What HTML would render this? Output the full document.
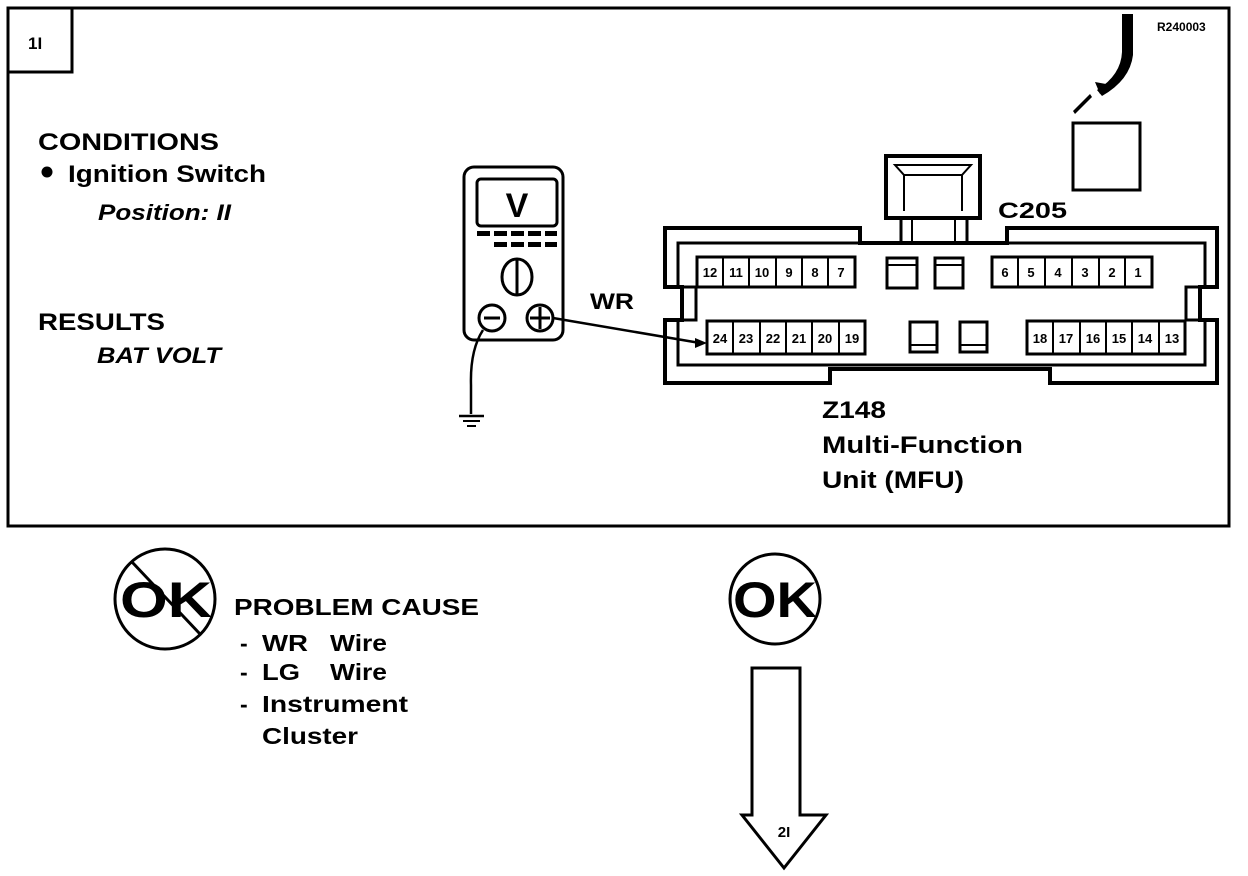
<!DOCTYPE html>
<html><head><style>
html,body{margin:0;padding:0;background:#fff;}
svg{display:block;}
text{font-family:"Liberation Sans",Arial,sans-serif;font-weight:bold;fill:#000;}
</style></head><body>
<svg width="1248" height="876" viewBox="0 0 1248 876" xmlns="http://www.w3.org/2000/svg">
<g fill="none" stroke="#000" stroke-width="3">
<rect x="8" y="8" width="1221" height="518"/>
<rect x="8" y="8" width="64" height="64"/>
<rect x="464" y="167" width="99" height="173" rx="10"/>
<rect x="477" y="179" width="80" height="47" rx="4"/>
<ellipse cx="517" cy="277" rx="15" ry="18"/>
<line x1="517" y1="260" x2="517" y2="294"/>
<circle cx="492" cy="318" r="13"/>
<line x1="484" y1="318" x2="500" y2="318"/>
<circle cx="540" cy="318" r="13"/>
<line x1="530" y1="318" x2="550" y2="318"/>
<line x1="540" y1="307" x2="540" y2="329"/>
<path d="M553 318 L700 343" stroke-width="2.5"/>
<path d="M483 330 Q470 350 471 385 L471 414" stroke-width="2.5"/>
<line x1="459" y1="416" x2="484" y2="416" stroke-width="2.5"/>
<line x1="463" y1="421" x2="480" y2="421" stroke-width="2"/>
<line x1="467" y1="426" x2="476" y2="426" stroke-width="2"/>
<path d="M665 228 L860 228 L860 243 L1007 243 L1007 228 L1217 228 L1217 287 L1200 287 L1200 320 L1217 320 L1217 383 L1050 383 L1050 369 L830 369 L830 383 L665 383 L665 320 L682 320 L682 287 L665 287 Z" stroke-width="4"/>
<path d="M678 243 L1205 243 L1205 287 L1186 287 L1186 320 L1205 320 L1205 365 L678 365 L678 320 L696 320 L696 287 L678 287 Z" stroke-width="3"/>
<rect x="886" y="156" width="94" height="62" stroke-width="4"/>
<path d="M895 165 L971 165 L962 175 L904 175 Z M895 165 L904 175 L904 211 M971 165 L962 175 L962 211" stroke-width="2"/>
<rect x="901" y="218" width="66" height="25" stroke-width="3"/>
<line x1="912" y1="218" x2="912" y2="243" stroke-width="2"/>
<line x1="955" y1="218" x2="955" y2="243" stroke-width="2"/>
<rect x="1073" y="123" width="67" height="67"/>
<rect x="697" y="257" width="158" height="30"/>
<rect x="992" y="257" width="160" height="30"/>
<rect x="707" y="321" width="158" height="33"/>
<rect x="1027" y="321" width="158" height="33"/>
<rect x="887" y="258" width="30" height="30"/><line x1="887" y1="265" x2="917" y2="265" stroke-width="2"/>
<rect x="935" y="258" width="28" height="30"/><line x1="935" y1="265" x2="963" y2="265" stroke-width="2"/>
<rect x="910" y="322" width="27" height="30"/><line x1="910" y1="345" x2="937" y2="345" stroke-width="2"/>
<rect x="960" y="322" width="27" height="30"/><line x1="960" y1="345" x2="987" y2="345" stroke-width="2"/>
<g stroke-width="2">
<line x1="723" y1="257" x2="723" y2="287"/><line x1="749" y1="257" x2="749" y2="287"/><line x1="776" y1="257" x2="776" y2="287"/><line x1="802" y1="257" x2="802" y2="287"/><line x1="828" y1="257" x2="828" y2="287"/>
<line x1="1018" y1="257" x2="1018" y2="287"/><line x1="1045" y1="257" x2="1045" y2="287"/><line x1="1072" y1="257" x2="1072" y2="287"/><line x1="1099" y1="257" x2="1099" y2="287"/><line x1="1125" y1="257" x2="1125" y2="287"/>
<line x1="733" y1="321" x2="733" y2="354"/><line x1="760" y1="321" x2="760" y2="354"/><line x1="786" y1="321" x2="786" y2="354"/><line x1="812" y1="321" x2="812" y2="354"/><line x1="839" y1="321" x2="839" y2="354"/>
<line x1="1053" y1="321" x2="1053" y2="354"/><line x1="1080" y1="321" x2="1080" y2="354"/><line x1="1106" y1="321" x2="1106" y2="354"/><line x1="1132" y1="321" x2="1132" y2="354"/><line x1="1159" y1="321" x2="1159" y2="354"/>
</g>
<circle cx="165" cy="599" r="50"/>
<line x1="132" y1="562" x2="200" y2="634"/>
<circle cx="775" cy="599" r="45"/>
<path d="M752 668 L800 668 L800 815 L826 815 L784 868 L742 815 L752 815 Z"/>
</g>
<g fill="#000">
<rect x="477" y="231" width="13" height="5"/><rect x="494" y="231" width="13" height="5"/><rect x="511" y="231" width="13" height="5"/><rect x="528" y="231" width="13" height="5"/><rect x="545" y="231" width="12" height="5"/>
<rect x="494" y="242" width="13" height="5"/><rect x="511" y="242" width="13" height="5"/><rect x="528" y="242" width="13" height="5"/><rect x="545" y="242" width="12" height="5"/>
<path d="M695 338 L707 343 L695 348 Z"/>
<path d="M1122 14 L1133 14 L1133 55 Q1130 80 1102 96 L1097 90 Q1121 75 1122 52 Z"/>
<path d="M1095 82 L1106 84 L1100 94 Z"/>
<path d="M1073 111 L1090 94 L1092 97 L1075 114 Z"/>
</g>
<text x="28" y="49" font-size="17">1I</text>
<text x="1157" y="31" font-size="12">R240003</text>
<text x="38" y="150" font-size="24" textLength="181" lengthAdjust="spacingAndGlyphs">CONDITIONS</text>
<circle cx="47" cy="172" r="5.5" fill="#000"/>
<text x="68" y="182" font-size="24" textLength="198" lengthAdjust="spacingAndGlyphs">Ignition Switch</text>
<text x="98" y="220" font-size="22" font-style="italic" font-weight="normal" textLength="133" lengthAdjust="spacingAndGlyphs">Position: II</text>
<text x="38" y="330" font-size="24" textLength="127" lengthAdjust="spacingAndGlyphs">RESULTS</text>
<text x="97" y="363" font-size="22" font-style="italic" font-weight="normal" textLength="124" lengthAdjust="spacingAndGlyphs">BAT VOLT</text>
<text x="517" y="217" font-size="34" text-anchor="middle">V</text>
<text x="590" y="309" font-size="22" textLength="44" lengthAdjust="spacingAndGlyphs">WR</text>
<text x="998" y="218" font-size="22" textLength="69" lengthAdjust="spacingAndGlyphs">C205</text>
<text x="822" y="418" font-size="24" textLength="64" lengthAdjust="spacingAndGlyphs">Z148</text>
<text x="822" y="453" font-size="24" textLength="201" lengthAdjust="spacingAndGlyphs">Multi-Function</text>
<text x="822" y="488" font-size="24" textLength="142" lengthAdjust="spacingAndGlyphs">Unit (MFU)</text>
<g font-size="13" text-anchor="middle">
<text x="710" y="277">12</text><text x="736" y="277">11</text><text x="762" y="277">10</text><text x="789" y="277">9</text><text x="815" y="277">8</text><text x="841" y="277">7</text>
<text x="1005" y="277">6</text><text x="1031" y="277">5</text><text x="1058" y="277">4</text><text x="1085" y="277">3</text><text x="1112" y="277">2</text><text x="1138" y="277">1</text>
<text x="720" y="343">24</text><text x="746" y="343">23</text><text x="773" y="343">22</text><text x="799" y="343">21</text><text x="825" y="343">20</text><text x="852" y="343">19</text>
<text x="1040" y="343">18</text><text x="1066" y="343">17</text><text x="1093" y="343">16</text><text x="1119" y="343">15</text><text x="1145" y="343">14</text><text x="1172" y="343">13</text>
</g>
<text x="120" y="617" font-size="50" textLength="92" lengthAdjust="spacingAndGlyphs">OK</text>
<text x="733" y="617" font-size="50" textLength="84" lengthAdjust="spacingAndGlyphs">OK</text>
<text x="234" y="615" font-size="23" textLength="245" lengthAdjust="spacingAndGlyphs">PROBLEM CAUSE</text>
<g font-size="23">
<text x="240" y="651">-</text><text x="262" y="651" textLength="46" lengthAdjust="spacingAndGlyphs">WR</text><text x="330" y="651" textLength="57" lengthAdjust="spacingAndGlyphs">Wire</text>
<text x="240" y="680">-</text><text x="262" y="680" textLength="38" lengthAdjust="spacingAndGlyphs">LG</text><text x="330" y="680" textLength="57" lengthAdjust="spacingAndGlyphs">Wire</text>
<text x="240" y="712">-</text><text x="262" y="712" textLength="146" lengthAdjust="spacingAndGlyphs">Instrument</text>
<text x="262" y="744" textLength="96" lengthAdjust="spacingAndGlyphs">Cluster</text>
</g>
<text x="784" y="837" font-size="15" text-anchor="middle">2I</text>
</svg>
</body></html>
